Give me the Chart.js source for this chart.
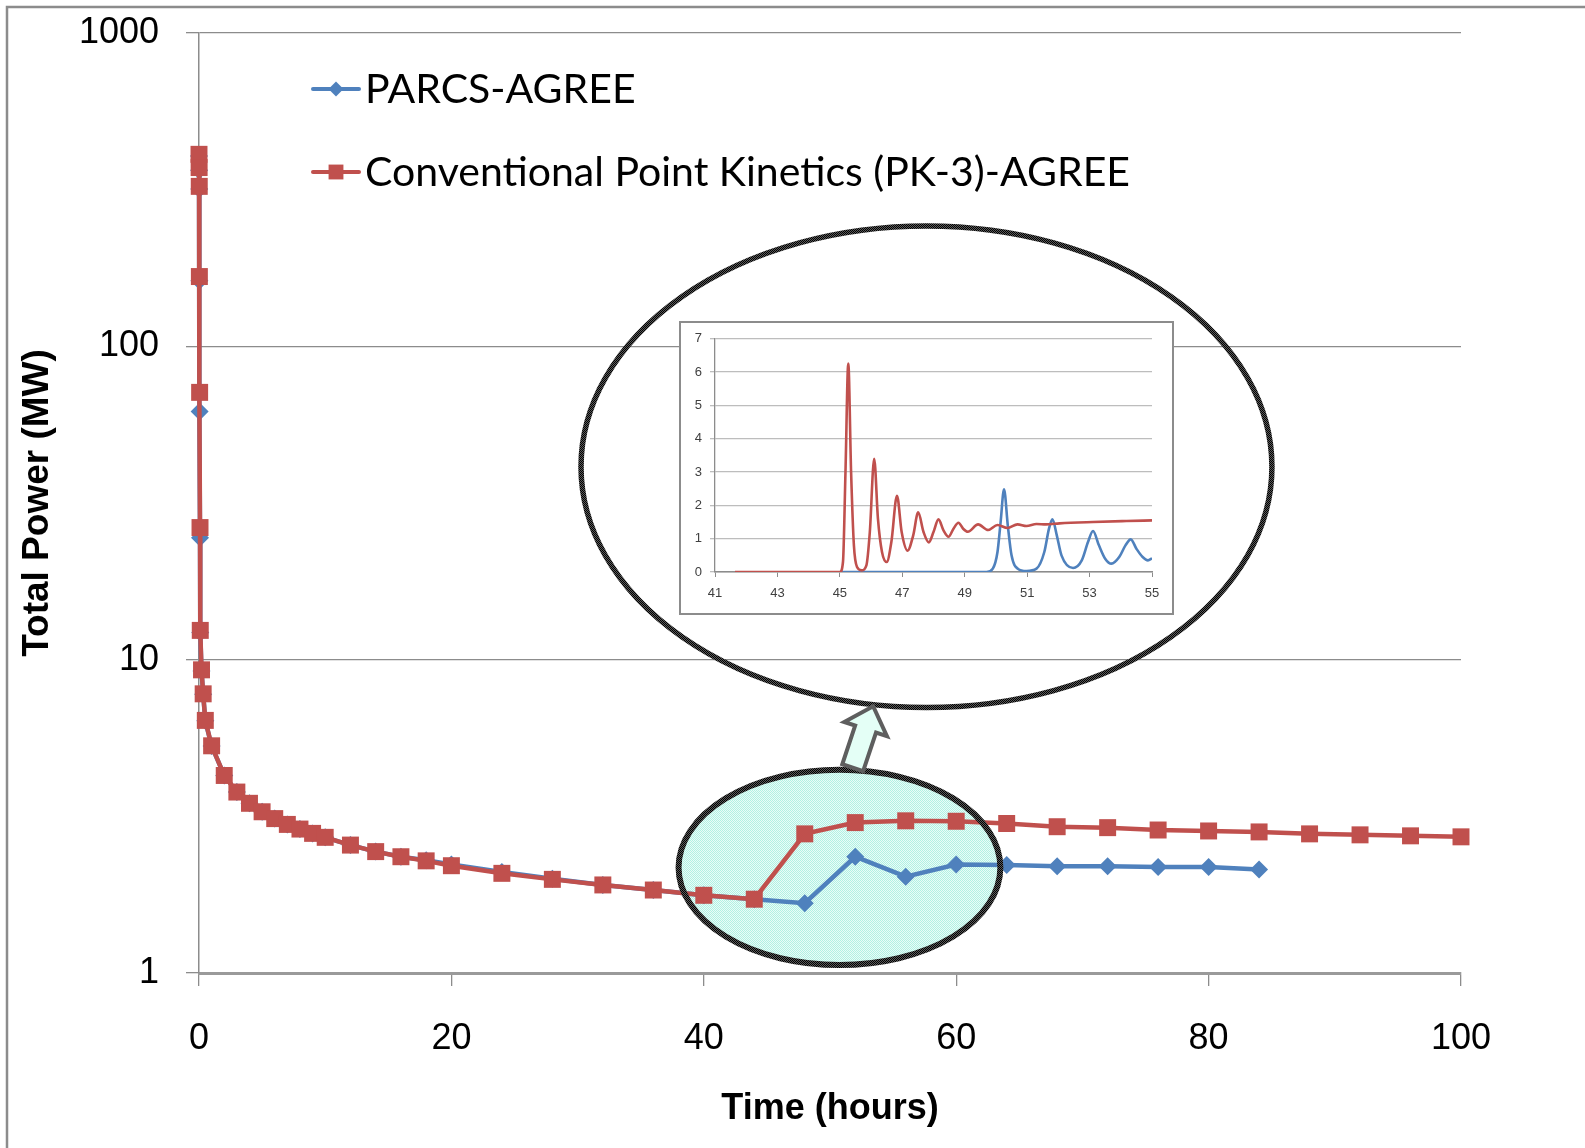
<!DOCTYPE html>
<html>
<head>
<meta charset="utf-8">
<title>Total Power vs Time</title>
<script src="https://cdn.jsdelivr.net/npm/chart.js@4/dist/chart.umd.min.js"></script>
<style>
  html, body { margin: 0; padding: 0; background: #ffffff; }
  #wrap { position: relative; width: 1585px; height: 1148px; overflow: hidden; background: #ffffff; }
  #main { position: absolute; left: 0; top: 0; }
  #insetBox { position: absolute; box-sizing: border-box; border: 2px solid #8c8c8c; background: #ffffff; }
  #inset { display: block; }
</style>
</head>
<body>
<div id="wrap">
  <canvas id="main" width="1585" height="1148"></canvas>
  <div id="insetBox"><canvas id="inset"></canvas></div>
</div>
<script>
// ---- Series data -------------------------------------------------------
const seriesNames = ['PARCS-AGREE', 'Conventional Point Kinetics (PK-3)-AGREE'];

// PARCS-AGREE: time (hours) and total power (MW)
const parcsTime = [0, 0.01, 0.02, 0.03, 0.05, 0.08, 0.1, 0.2, 0.33, 0.5,
  1, 2, 3, 4, 5, 6, 7, 8, 9, 10, 12, 14, 16, 18, 20, 24, 28, 32, 36, 40, 44,
  48, 52, 56, 60, 64, 68, 72, 76, 80, 84];
const parcsPower = [405, 365, 318, 162, 61.9, 24.5, 12.2, 9.2, 7.75, 6.38,
  5.3, 4.27, 3.78, 3.48, 3.27, 3.11, 2.98, 2.88, 2.79, 2.71, 2.56, 2.44, 2.35, 2.29, 2.22, 2.10, 2.00, 1.91, 1.84, 1.77, 1.72,
  1.67, 2.35, 2.03, 2.22, 2.21, 2.19, 2.19, 2.18, 2.18, 2.14];

// Conventional point kinetics (PK-3)-AGREE
const pkTime = [0, 0.01, 0.02, 0.03, 0.05, 0.08, 0.1, 0.2, 0.33, 0.5,
  1, 2, 3, 4, 5, 6, 7, 8, 9, 10, 12, 14, 16, 18, 20, 24, 28, 32, 36, 40, 44,
  48, 52, 56, 60, 64, 68, 72, 76, 80, 84, 88, 92, 96, 100];
const pkPower = [410, 372, 324, 167, 71.3, 26.4, 12.4, 9.28, 7.78, 6.40,
  5.31, 4.27, 3.78, 3.48, 3.27, 3.11, 2.98, 2.88, 2.79, 2.71, 2.56, 2.44, 2.35, 2.28, 2.20, 2.08, 1.99, 1.91, 1.84, 1.77, 1.72,
  2.78, 3.02, 3.06, 3.05, 3.00, 2.93, 2.91, 2.86, 2.84, 2.82, 2.78, 2.76, 2.74, 2.72];

const xTickValues = [0, 20, 40, 60, 80, 100];
const yTickValues = [1, 10, 100, 1000];

// Close-up of the 41-55 h window (linear power scale)
const insetPkTime = [41.64, 45.0, 45.1, 45.18, 45.27, 45.36, 45.45, 45.55, 45.7, 45.85, 45.96, 46.1, 46.22, 46.35, 46.5,
  46.65, 46.83, 46.98, 47.17, 47.35, 47.51, 47.68, 47.85, 48.0, 48.16, 48.32, 48.48, 48.64, 48.8, 48.95, 49.1,
  49.43, 49.75, 50.05, 50.37, 50.69, 50.98, 51.3, 51.6, 52.04, 53.11, 54.18, 55.0];
const insetPkPower = [0, 0, 0.3, 3.0, 6.26, 3.0, 0.8, 0.15, 0.05, 0.2, 1.2, 3.40, 1.6, 0.6, 0.30,
  0.9, 2.29, 1.2, 0.64, 1.1, 1.79, 1.2, 0.89, 1.2, 1.58, 1.25, 1.06, 1.3, 1.48, 1.3, 1.21,
  1.43, 1.26, 1.41, 1.32, 1.43, 1.38, 1.44, 1.43, 1.46, 1.50, 1.53, 1.55];
const insetParcsTime = [45.0, 49.7, 49.9, 50.05, 50.15, 50.26, 50.38, 50.5, 50.7, 50.98, 51.3, 51.55, 51.7, 51.81,
  51.95, 52.1, 52.47, 52.75, 52.95, 53.11, 53.3, 53.5, 53.7, 53.95, 54.15, 54.32, 54.5, 54.7, 54.87, 55.0];
const insetParcsPower = [0, 0, 0.1, 0.6, 1.5, 2.48, 1.4, 0.5, 0.1, 0.03, 0.1, 0.6, 1.3, 1.58,
  1.1, 0.5, 0.12, 0.35, 0.9, 1.23, 0.8, 0.4, 0.25, 0.45, 0.8, 0.98, 0.7, 0.45, 0.35, 0.41];
const insetXTicks = [41, 43, 45, 47, 49, 51, 53, 55];
const insetYTicks = [0, 1, 2, 3, 4, 5, 6, 7];

// ---- Styling -------------------------------------------------------------
const BLUE = '#4F81BD';
const RED = '#C0504D';
const FONT = "'Liberation Sans', Arial, sans-serif";
const LEGEND_FONT = "Lato, 'Liberation Sans', Arial, sans-serif";
Chart.defaults.font.family = FONT;
Chart.defaults.color = '#000000';

// Callout shapes, placed in data units (hours, MW)
const callouts = {
  zoomRing:  { x0: 38.0,  x1: 63.5,  yLow: 1.06, yHigh: 4.45 },
  insetRing: { x0: 30.27, x1: 85.02, yLow: 7.04, yHigh: 242 },
  arrow:     { tailX: 51.8, tailY: 4.52, tipX: 53.42, tipY: 7.10 },
  insetFrame:{ x0: 38.04, x1: 77.28, yLow: 13.9, yHigh: 120.9 }
};

function toPoints(xs, ys) { return xs.map((x, i) => ({ x: x, y: ys[i] })); }

function makePattern(ctx, colors) {
  const c = document.createElement('canvas');
  c.width = 2; c.height = 2;
  const g = c.getContext('2d');
  colors.forEach((col, i) => { g.fillStyle = col; g.fillRect(i % 2, Math.floor(i / 2), 1, 1); });
  return ctx.createPattern(c, 'repeat');
}

function ringPath(chart, r) {
  const xs = chart.scales.x, ys = chart.scales.y;
  const l = xs.getPixelForValue(r.x0), rt = xs.getPixelForValue(r.x1);
  const t = ys.getPixelForValue(r.yHigh), b = ys.getPixelForValue(r.yLow);
  const ctx = chart.ctx;
  ctx.beginPath();
  ctx.ellipse((l + rt) / 2, (t + b) / 2, (rt - l) / 2, (b - t) / 2, 0, 0, Math.PI * 2);
}

// keep the plot area where the layout padding puts it (no extra room for edge labels)
function noEdgePadding(s) {
  s.paddingTop = 0; s.paddingBottom = 0; s.paddingLeft = 0; s.paddingRight = 0;
}

const calloutPlugin = {
  id: 'callouts',
  beforeDraw(chart) {
    const ctx = chart.ctx;
    ctx.save();
    ctx.fillStyle = '#ffffff';
    ctx.fillRect(0, 0, chart.width, chart.height);
    ctx.restore();
  },
  beforeDatasetsDraw(chart) {
    const ctx = chart.ctx;
    ctx.save();
    ringPath(chart, callouts.zoomRing);
    ctx.fillStyle = makePattern(ctx, ['rgba(70,222,188,0.42)', 'rgba(215,250,242,0.55)',
                                      'rgba(215,250,242,0.55)', 'rgba(70,222,188,0.42)']);
    ctx.fill();
    ctx.restore();
  },
  afterDatasetsDraw(chart) {
    const ctx = chart.ctx;
    const xs = chart.scales.x, ys = chart.scales.y;
    const grain = makePattern(ctx, ['#000000', '#5a5a5a', '#5a5a5a', '#000000']);
    ctx.save();
    // outline of the highlighted region
    ringPath(chart, callouts.zoomRing);
    ctx.strokeStyle = grain;
    ctx.lineWidth = 6;
    ctx.stroke();
    // outline around the close-up
    ringPath(chart, callouts.insetRing);
    ctx.lineWidth = 5.5;
    ctx.stroke();

    // block arrow pointing from the region to the close-up
    const a = callouts.arrow;
    const tail = { x: xs.getPixelForValue(a.tailX), y: ys.getPixelForValue(a.tailY) };
    const tip = { x: xs.getPixelForValue(a.tipX), y: ys.getPixelForValue(a.tipY) };
    const dx = tip.x - tail.x, dy = tip.y - tail.y, len = Math.hypot(dx, dy);
    const ux = dx / len, uy = dy / len, nx = -uy, ny = ux;
    const shaftHalf = 11, headHalf = 22.5, headLen = 24;
    const bx = tip.x - ux * headLen, by = tip.y - uy * headLen;
    ctx.beginPath();
    ctx.moveTo(tail.x + nx * shaftHalf, tail.y + ny * shaftHalf);
    ctx.lineTo(bx + nx * shaftHalf, by + ny * shaftHalf);
    ctx.lineTo(bx + nx * headHalf, by + ny * headHalf);
    ctx.lineTo(tip.x, tip.y);
    ctx.lineTo(bx - nx * headHalf, by - ny * headHalf);
    ctx.lineTo(bx - nx * shaftHalf, by - ny * shaftHalf);
    ctx.lineTo(tail.x - nx * shaftHalf, tail.y - ny * shaftHalf);
    ctx.closePath();
    ctx.fillStyle = '#E4FFF6';
    ctx.fill();
    ctx.strokeStyle = '#5e5e5e';
    ctx.lineWidth = 4;
    ctx.lineJoin = 'miter';
    ctx.stroke();
    ctx.restore();
  },
  afterDraw(chart) {
    const ctx = chart.ctx;
    ctx.save();
    // legend, in series order
    const rows = [89, 172];
    const legendOrder = [0, 1];
    legendOrder.forEach((di, i) => {
      const ds = chart.data.datasets[di];
      const y = rows[i];
      ctx.strokeStyle = ds.borderColor;
      ctx.lineWidth = 4;
      ctx.lineCap = 'round';
      ctx.beginPath();
      ctx.moveTo(313, y);
      ctx.lineTo(359, y);
      ctx.stroke();
      ctx.fillStyle = ds.pointBackgroundColor;
      Chart.helpers.drawPoint(ctx, {
        pointStyle: ds.pointStyle,
        radius: ds.pointStyle === 'rect' ? 10.5 : 7.5,
        rotation: 0,
        borderWidth: 0
      }, 336, y);
      ctx.fillStyle = '#000000';
      ctx.font = '41px ' + LEGEND_FONT;
      ctx.textBaseline = 'alphabetic';
      ctx.textAlign = 'left';
      ctx.fillText(ds.label, 365, y + 14);
    });
    // outer frame
    ctx.strokeStyle = '#8c8c8c';
    ctx.lineWidth = 2.5;
    ctx.strokeRect(7, 7, 1700, 1300);
    ctx.restore();
  }
};

const mainChart = new Chart(document.getElementById('main'), {
  type: 'line',
  data: {
    datasets: [
      {
        label: seriesNames[0],
        data: toPoints(parcsTime, parcsPower),
        borderColor: BLUE,
        backgroundColor: BLUE,
        pointBackgroundColor: BLUE,
        pointBorderWidth: 0,
        pointStyle: 'rectRot',
        pointRadius: 9,
        borderWidth: 4.5,
        tension: 0,
        clip: false,
        order: 2
      },
      {
        label: seriesNames[1],
        data: toPoints(pkTime, pkPower),
        borderColor: RED,
        backgroundColor: RED,
        pointBackgroundColor: RED,
        pointBorderWidth: 0,
        pointStyle: 'rect',
        pointRadius: 12,
        borderWidth: 4.5,
        tension: 0,
        clip: false,
        order: 1
      }
    ]
  },
  options: {
    responsive: false,
    animation: false,
    events: [],
    layout: { padding: { left: 0, top: 33, right: 124, bottom: 0 } },
    plugins: { legend: { display: false }, tooltip: { enabled: false } },
    scales: {
      x: {
        type: 'linear',
        min: 0,
        max: 100,
        afterBuildTicks: (s) => { s.ticks = xTickValues.map(v => ({ value: v })); },
        afterFit: (s) => { s.height = 175; noEdgePadding(s); },
        ticks: {
          autoSkip: false,
          maxRotation: 0,
          padding: 31,
          font: { size: 36 },
          color: '#000000',
          callback: (v) => String(v)
        },
        grid: {
          drawOnChartArea: false,
          drawTicks: true,
          tickLength: 13,
          color: '#8c8c8c',
          lineWidth: 1.3
        },
        border: { display: true, color: '#9a9a9a', width: 3 },
        title: {
          display: true,
          text: 'Time (hours)',
          font: { size: 36, weight: 'bold' },
          color: '#000000',
          padding: { top: 0, bottom: 17 }
        }
      },
      y: {
        type: 'logarithmic',
        min: 1,
        max: 1000,
        afterBuildTicks: (s) => { s.ticks = yTickValues.map(v => ({ value: v })); },
        afterFit: (s) => { s.width = 199; noEdgePadding(s); },
        ticks: {
          autoSkip: false,
          padding: 27,
          font: { size: 36 },
          color: '#000000',
          callback: (v) => String(v)
        },
        grid: {
          drawOnChartArea: true,
          drawTicks: true,
          tickLength: 13,
          color: '#8c8c8c',
          lineWidth: 1.3
        },
        border: { display: true, color: '#8c8c8c', width: 1.5 },
        title: {
          display: true,
          text: 'Total Power (MW)',
          font: { size: 37, weight: 'bold' },
          color: '#000000',
          padding: { top: 16, bottom: 0 }
        }
      }
    }
  },
  plugins: [calloutPlugin]
});

// ---- Close-up chart, framed inside the large ring --------------------------
(function buildInset() {
  const xs = mainChart.scales.x, ys = mainChart.scales.y;
  const f = callouts.insetFrame;
  const L = Math.round(xs.getPixelForValue(f.x0));
  const R = Math.round(xs.getPixelForValue(f.x1));
  const T = Math.round(ys.getPixelForValue(f.yHigh));
  const B = Math.round(ys.getPixelForValue(f.yLow));
  const box = document.getElementById('insetBox');
  box.style.left = L + 'px';
  box.style.top = T + 'px';
  box.style.width = (R - L) + 'px';
  box.style.height = (B - T) + 'px';
  const cv = document.getElementById('inset');
  cv.width = R - L - 4;
  cv.height = B - T - 4;

  const tickFont = { size: 13 };
  new Chart(cv, {
    type: 'line',
    data: {
      datasets: [
        {
          label: seriesNames[0],
          data: toPoints(insetParcsTime, insetParcsPower),
          borderColor: BLUE,
          borderWidth: 2.6,
          pointRadius: 0,
          cubicInterpolationMode: 'monotone',
          order: 2
        },
        {
          label: seriesNames[1],
          data: toPoints(insetPkTime, insetPkPower),
          borderColor: RED,
          borderWidth: 2.6,
          pointRadius: 0,
          cubicInterpolationMode: 'monotone',
          order: 1
        }
      ]
    },
    options: {
      responsive: false,
      animation: false,
      events: [],
      layout: { padding: { left: 0, top: 12, right: 20, bottom: 0 } },
      plugins: { legend: { display: false }, tooltip: { enabled: false } },
      scales: {
        x: {
          type: 'linear',
          min: 41,
          max: 55,
          afterBuildTicks: (s) => { s.ticks = insetXTicks.map(v => ({ value: v })); },
          afterFit: (s) => { s.height = 41; },
          ticks: { autoSkip: false, maxRotation: 0, padding: 9, font: tickFont, color: '#404040' },
          grid: { drawOnChartArea: false, drawTicks: true, tickLength: 5, color: '#8c8c8c', lineWidth: 1 },
          border: { display: true, color: '#8c8c8c', width: 1.5 }
        },
        y: {
          type: 'linear',
          min: 0,
          max: 7,
          afterBuildTicks: (s) => { s.ticks = insetYTicks.map(v => ({ value: v })); },
          afterFit: (s) => { s.width = 34; },
          ticks: { autoSkip: false, padding: 8, font: tickFont, color: '#404040' },
          grid: { drawOnChartArea: true, drawTicks: true, tickLength: 5, color: '#bdbdbd', lineWidth: 1.3 },
          border: { display: true, color: '#8c8c8c', width: 1.3 }
        }
      }
    }
  });
})();
</script>
</body>
</html>
